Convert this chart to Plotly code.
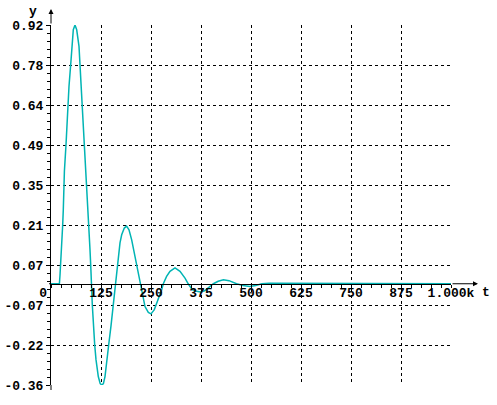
import numpy as np
import plotly.graph_objects as go

# ---- data ----
t_values = [0, 21, 22.5, 24.25, 26.75, 29.25, 30.75, 32.5, 33.5, 37.5, 40.75, 43.25, 45,
            49.25, 52.5, 55.75, 60, 64.25, 70, 72.5, 76.75, 79.25, 80.75, 85, 87.5, 90,
            92.5, 94.25, 97.5, 99.25, 100.5, 103.25, 109.25, 112.5, 118.25, 123, 127, 131,
            135, 140.75, 144.25, 150, 155.75, 161.75, 166.7, 172.5, 176.7, 183.3, 189, 195,
            201.7, 210, 218.3, 222.5, 228.3, 235, 243.3, 250, 258.3, 268.3, 276.7, 280.8,
            289, 297.5, 310, 322.5, 335, 343, 353, 364, 374, 384, 395, 406, 418, 431, 445,
            455, 464, 480, 497, 512, 527, 545, 570, 600, 1000]
y_values = [0, 0, 0.03, 0.068, 0.121, 0.21, 0.263, 0.352, 0.40, 0.494, 0.595, 0.636, 0.702,
            0.779, 0.844, 0.903, 0.92, 0.903, 0.844, 0.779, 0.702, 0.636, 0.595, 0.494, 0.399,
            0.352, 0.263, 0.21, 0.121, 0.068, 0, -0.075, -0.217, -0.27, -0.33, -0.355, -0.36,
            -0.355, -0.33, -0.27, -0.217, -0.15, -0.075, 0, 0.074, 0.145, 0.174, 0.198, 0.205,
            0.192, 0.156, 0.097, 0.038, 0, -0.045, -0.081, -0.102, -0.107, -0.092, -0.057,
            -0.021, 0, 0.026, 0.044, 0.056, 0.044, 0.02, 0, -0.021, -0.027, -0.029, -0.025,
            -0.012, 0, 0.009, 0.014, 0.011, 0.005, 0, -0.006, -0.0095, -0.006, 0, 0.002,
            0.002, 0, 0]

x_tick_vals = [0, 125, 250, 375, 500, 625, 750, 875, 1000]
x_tick_text = ["0\u00a0\u00a0", "125", "250", "375", "500", "625", "750", "875", "1.000k"]
y_tick_text = ["-0.36", "-0.22", "-0.07", "0.07", "0.21", "0.35", "0.49", "0.64", "0.78", "0.92"]

X_MIN, X_MAX = 0, 1000
Y_MIN, Y_MAX = -0.36, 0.92

y_tick_vals = list(np.linspace(Y_MIN, Y_MAX, len(y_tick_text)))
y_minor_vals = list(np.linspace(Y_MIN, Y_MAX, 5 * (len(y_tick_text) - 1) + 1))
x_minor_vals = list(np.linspace(X_MIN, X_MAX, 5 * (len(x_tick_vals) - 1) + 1))

W, H = 497, 405
ML, MR, MT, MB = 51, 46, 25, 20
PW, PH = W - ML - MR, H - MT - MB
zero_pos = (0 - Y_MIN) / (Y_MAX - Y_MIN)

FONT = dict(family="Liberation Mono, DejaVu Sans Mono, monospace", size=13,
            color="black", weight="bold")

fig = go.Figure()
fig.add_trace(go.Scatter(x=t_values, y=y_values, mode="lines",
                         line=dict(color="#00b4b4", width=1.5), showlegend=False,
                         hoverinfo="skip"))
# invisible copy so that the overlaid axis carrying the tick labels is drawn
fig.add_trace(go.Scatter(x=t_values, y=y_values, mode="lines", xaxis="x2", yaxis="y",
                         line=dict(width=0), opacity=0, showlegend=False,
                         hoverinfo="skip"))

fig.update_layout(
    width=W, height=H,
    margin=dict(l=ML, r=MR, t=MT, b=MB, pad=0, autoexpand=False),
    paper_bgcolor="white", plot_bgcolor="white",
    font=FONT,
    xaxis=dict(range=[X_MIN, X_MAX], domain=[0, 1], tickmode="array",
               tickvals=x_tick_vals, showticklabels=False, ticks="",
               showgrid=True, gridcolor="black", gridwidth=1, griddash="dot",
               zeroline=False, showline=False, automargin=False),
    xaxis2=dict(range=[X_MIN, X_MAX], overlaying="x", anchor="free", position=zero_pos,
                tickmode="array", tickvals=x_tick_vals, ticktext=x_tick_text,
                ticks="outside", ticklen=3, tickcolor="black", tickwidth=1,
                ticklabelstandoff=-6,
                minor=dict(tickvals=x_minor_vals, ticks="outside", ticklen=3,
                           tickcolor="black", showgrid=False),
                showgrid=False, zeroline=False, showline=True, linecolor="black",
                linewidth=1, tickfont=FONT, automargin=False),
    yaxis=dict(range=[Y_MIN, Y_MAX], domain=[0, 1], tickmode="array",
               tickvals=y_tick_vals, ticktext=y_tick_text,
               ticks="outside", ticklen=4, tickcolor="black", tickwidth=1,
               minor=dict(tickvals=y_minor_vals, ticks="outside", ticklen=3,
                          tickcolor="black", showgrid=False),
               showgrid=True, gridcolor="black", gridwidth=1, griddash="dot",
               zeroline=False, showline=True, linecolor="black", linewidth=1,
               tickfont=FONT, automargin=False),
)

# axis extensions + arrows
fig.add_annotation(xref="paper", yref="paper", x=1 + 27 / PW, y=zero_pos, ax=-27, ay=0,
                   text="", showarrow=True, arrowhead=2, arrowsize=1, arrowwidth=1,
                   arrowcolor="black", standoff=0)
fig.add_annotation(xref="paper", yref="paper", x=0, y=1 + 16 / PH, ax=0, ay=16,
                   text="", showarrow=True, arrowhead=2, arrowsize=1, arrowwidth=1,
                   arrowcolor="black", standoff=0)
fig.add_shape(type="line", xref="paper", yref="paper", x0=0, x1=0, y0=-5 / PH, y1=0,
              line=dict(color="black", width=1))
fig.add_shape(type="line", xref="paper", yref="paper", x0=-2 / PW, x1=0, y0=zero_pos,
              y1=zero_pos, line=dict(color="black", width=1))

# axis names
fig.add_annotation(xref="paper", yref="paper", x=(33 - ML) / PW, y=(H - MB - 12) / PH,
                   text="y", showarrow=False, font=FONT, xanchor="center", yanchor="middle")
fig.add_annotation(xref="paper", yref="paper", x=(486 - ML) / PW, y=(H - MB - 292) / PH,
                   text="t", showarrow=False, font=FONT, xanchor="center", yanchor="middle")

fig.write_html("out.html", config={"displayModeBar": False},
               post_script="document.body.style.margin='0px';")
